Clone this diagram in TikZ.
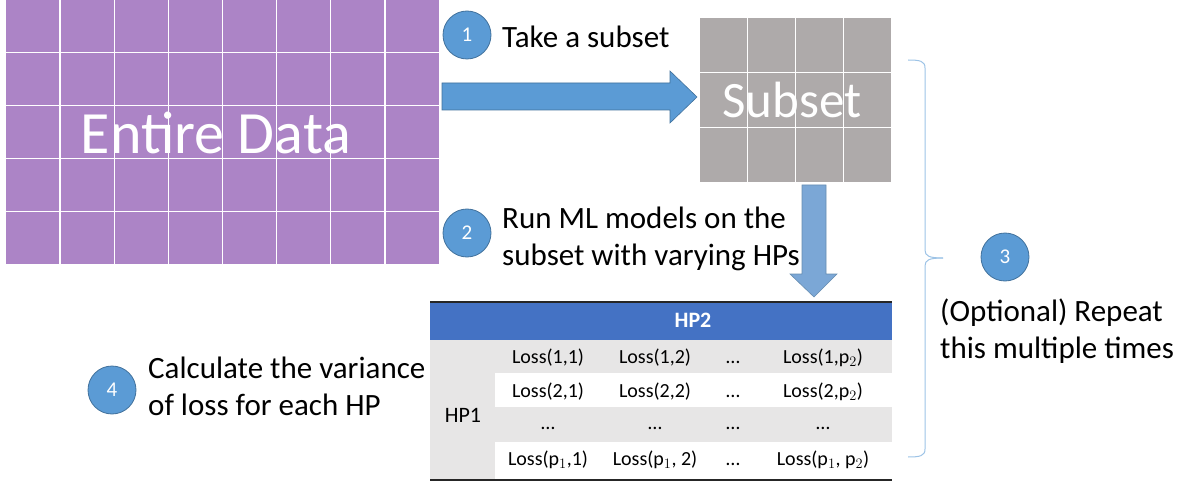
\documentclass[tikz,border=0pt]{standalone}
\usepackage{fontspec}
\setmainfont{Carlito}
\definecolor{purp}{HTML}{AC84C6}
\definecolor{gry}{HTML}{AEAAAA}
\definecolor{blu}{HTML}{5B9BD5}
\definecolor{bluedge}{HTML}{41719C}
\definecolor{blulight}{HTML}{7BA7D6}
\definecolor{hdr}{HTML}{4472C4}
\definecolor{rowg}{HTML}{E7E6E6}
\definecolor{brc}{HTML}{9DC3E6}
\begin{document}
\begin{tikzpicture}[x=1pt,y=-1pt,
  circ/.style={circle,fill=blu,draw=bluedge,line width=0.8pt,minimum size=48pt,inner sep=0pt,text=white,font=\fontsize{21}{24}\selectfont},
  lbl/.style={anchor=west,inner sep=0pt,align=left,font=\fontsize{31}{37}\selectfont},
  cell/.style={inner sep=0pt,text height=15pt,text depth=5pt,font=\fontsize{20}{24}\selectfont},
  gridline/.style={white,line width=1.3pt},
  blockarrow/.style={fill=blu,draw=bluedge,line width=0.6pt}]
\useasboundingbox (0,0) rectangle (1184,484);
% Entire data grid
\fill[purp] (6,0) rectangle (439,264);
\foreach \i in {1,...,7} \draw[gridline] ({6+54.125*\i},0) -- ({6+54.125*\i},264);
\foreach \j in {1,...,4} \draw[gridline] (6,{52.8*\j}) -- (439,{52.8*\j});
\node[text=white,inner sep=0pt,font=\fontsize{60}{70}\selectfont] (entire) at (216,133) {Entire Data};
% Subset grid
\fill[gry] (700,18) rectangle (891,182);
\foreach \i in {1,2,3} \draw[gridline] ({700+47.75*\i},18) -- ({700+47.75*\i},182);
\foreach \j in {1,2} \draw[gridline] (700,{18+54.67*\j}) -- (891,{18+54.67*\j});
\node[text=white,inner sep=0pt,font=\fontsize{51}{60}\selectfont] (subset) at (792,100) {Subset};
% step 1
\node[circ] (c1) at (467,35) {1};
\node[lbl] (t1) at (502,37) {Take a subset};
\draw[blockarrow] (442,83) -- (670,83) -- (670,71) -- (697,97) -- (670,123) -- (670,110) -- (442,110) -- cycle;
% step 2
\node[circ] (c2) at (467,233) {2};
\node[lbl] (t2) at (502,239) {Run ML models on the\\subset with varying HPs};
\draw[fill=blulight,draw=bluedge!80,line width=0.6pt] (802,185) -- (826,185) -- (826,274) -- (837,274) -- (814,297) -- (790,274) -- (802,274) -- cycle;
% brace and step 3
\draw[brc,line width=1pt] (908,60) .. controls (920,60) and (925,61) .. (925,68) -- (925,250) .. controls (925,256) and (929,258) .. (943,258);
\draw[brc,line width=1pt] (943,258) .. controls (929,258) and (925,260) .. (925,266) -- (925,449) .. controls (925,456) and (920,457) .. (908,457);
\node[circ] (c3) at (1005,257) {3};
\node[lbl] (t3) at (940,331) {(Optional) Repeat\\this multiple times};
% step 4
\node[circ] (c4) at (112,390) {4};
\node[lbl] (t4) at (148,386) {Calculate the variance\\of loss for each HP};
% table
\fill[hdr] (430,302) rectangle (892,340);
\draw[black!85,line width=2pt] (430,302) -- (892,302);
\fill[rowg] (430,340) rectangle (892,373);
\fill[rowg] (430,407) rectangle (892,442);
\fill[rowg] (430,340) rectangle (495,479);
\draw[black!85,line width=2pt] (430,480) -- (892,480);
\node[cell,text=white,font=\fontsize{22}{24}\selectfont\bfseries] (hp2) at (693,322) {HP2};
\node[cell,font=\fontsize{22}{24}\selectfont] (hp1) at (463,417) {HP1};
\node[cell] (a11) at (548,358) {Loss(1,1)};
\node[cell] (a12) at (655,358) {Loss(1,2)};
\node[cell] (a13) at (733,358) {…};
\node[cell] (a14) at (823,358) {Loss(1,$\mathrm{p}_2$)};
\node[cell] (a21) at (548,392) {Loss(2,1)};
\node[cell] (a22) at (655,392) {Loss(2,2)};
\node[cell] (a23) at (733,392) {…};
\node[cell] (a24) at (823,392) {Loss(2,$\mathrm{p}_2$)};
\node[cell] (a31) at (548,424) {…};
\node[cell] (a32) at (655,424) {…};
\node[cell] (a33) at (733,424) {…};
\node[cell] (a34) at (823,424) {…};
\node[cell] (a41) at (548,460) {Loss($\mathrm{p}_1$,1)};
\node[cell] (a42) at (655,460) {Loss($\mathrm{p}_1$, 2)};
\node[cell] (a43) at (733,460) {…};
\node[cell] (a44) at (823,460) {Loss($\mathrm{p}_1$, $\mathrm{p}_2$)};
\end{tikzpicture}
\end{document}
